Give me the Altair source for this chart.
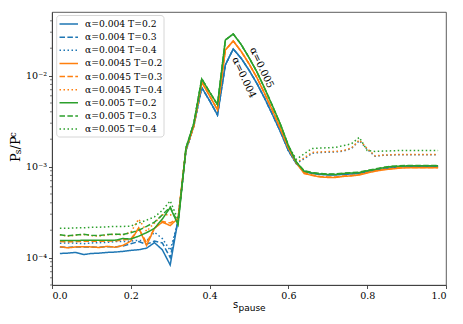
import altair as alt
import pandas as pd
import numpy as np

# ---------------- data ----------------
s_vals = [round(0.02 * i, 2) for i in range(1, 50)]  # 0.02 ... 0.98

labels = ["α=0.004 T=0.2", "α=0.004 T=0.3", "α=0.004 T=0.4",
          "α=0.0045 T=0.2", "α=0.0045 T=0.3", "α=0.0045 T=0.4",
          "α=0.005 T=0.2", "α=0.005 T=0.3", "α=0.005 T=0.4"]
colors = ["#1f77b4", "#1f77b4", "#1f77b4",
          "#ff7f0e", "#ff7f0e", "#ff7f0e",
          "#2ca02c", "#2ca02c", "#2ca02c"]
dashes = [[1, 0], [5.5, 2.4], [1.5, 2.5]] * 3

# s = 0.02 ... 0.32  (x1e-4)
head_b2 = [1.11, 1.12, 1.14, 1.08, 1.11, 1.12, 1.14, 1.15, 1.17, 1.20, 1.22, 1.27, 1.46, 1.22, 0.83, 2.6]
head_b3 = [1.31, 1.29, 1.31, 1.31, 1.31, 1.30, 1.32, 1.31, 1.34, 1.42, 1.50, 1.40, 1.52, 1.45, 1.00, 2.6]
head_b4 = [1.44, 1.45, 1.44, 1.42, 1.45, 1.46, 1.47, 1.50, 1.50, 1.52, 1.55, 1.52, 1.90, 1.62, 1.20, 2.5]
head_o2 = [1.32, 1.28, 1.31, 1.32, 1.31, 1.29, 1.33, 1.30, 1.36, 1.52, 2.12, 1.36, 2.10, 2.45, 2.25, 2.7]
head_o3 = [1.50, 1.49, 1.50, 1.51, 1.51, 1.51, 1.52, 1.52, 1.56, 1.60, 2.10, 1.45, 2.10, 2.50, 2.40, 2.7]
head_o4 = [1.78, 1.72, 1.76, 1.80, 1.74, 1.72, 1.78, 1.80, 1.78, 1.90, 2.65, 1.95, 2.40, 2.95, 2.95, 2.75]
head_g2 = [1.54, 1.54, 1.54, 1.55, 1.55, 1.55, 1.55, 1.55, 1.62, 1.60, 1.72, 1.88, 2.10, 2.65, 3.55, 2.3]
head_g3 = [1.78, 1.74, 1.77, 1.80, 1.76, 1.75, 1.79, 1.81, 1.80, 1.88, 2.00, 2.20, 2.45, 2.95, 3.60, 2.4]
head_g4 = [2.10, 2.10, 2.12, 2.13, 2.15, 2.16, 2.18, 2.20, 2.20, 2.22, 2.40, 2.58, 2.80, 3.30, 4.20, 2.6]

# s = 0.34 ... 0.60  (x1e-3), common to all T for a given alpha
peak_a004 = [1.5, 2.8, 7.4, 5.3, 3.7, 13.1, 19.6, 15.5, 11.5, 8.2, 5.6, 3.7, 2.4, 1.5]
peak_a0045 = [1.55, 2.8, 8.5, 6.0, 4.2, 19.1, 24.0, 18.5, 13.5, 9.5, 6.3, 4.1, 2.6, 1.6]
peak_a005 = [1.6, 3.0, 9.2, 6.6, 4.8, 24.6, 28.7, 22.0, 15.8, 11.0, 7.2, 4.6, 2.9, 1.7]

# s = 0.62 ... 0.98  (x1e-3)
tail_b2 = [1.08, 0.88, 0.84, 0.82, 0.81, 0.81, 0.82, 0.83, 0.84, 0.88, 0.91, 0.94, 0.97, 0.99, 1.00, 1.00, 1.00, 1.00, 1.00]
tail_b3 = [1.09, 0.89, 0.85, 0.83, 0.82, 0.82, 0.83, 0.84, 0.85, 0.89, 0.92, 0.95, 0.98, 1.00, 1.01, 1.01, 1.01, 1.01, 1.01]
tail_b4 = [1.08, 1.22, 1.40, 1.43, 1.44, 1.45, 1.48, 1.58, 1.93, 1.55, 1.30, 1.33, 1.34, 1.35, 1.35, 1.35, 1.35, 1.35, 1.35]
tail_o2 = [1.10, 0.84, 0.80, 0.77, 0.76, 0.76, 0.78, 0.79, 0.81, 0.85, 0.89, 0.92, 0.94, 0.96, 0.97, 0.97, 0.97, 0.97, 0.97]
tail_o3 = [1.11, 0.86, 0.81, 0.78, 0.77, 0.77, 0.79, 0.80, 0.82, 0.86, 0.90, 0.93, 0.95, 0.97, 0.98, 0.98, 0.98, 0.98, 0.98]
tail_o4 = [1.10, 1.25, 1.43, 1.45, 1.46, 1.47, 1.50, 1.60, 1.96, 1.58, 1.31, 1.34, 1.35, 1.36, 1.36, 1.36, 1.36, 1.36, 1.36]
tail_g2 = [1.12, 0.89, 0.85, 0.83, 0.82, 0.82, 0.84, 0.85, 0.86, 0.90, 0.93, 0.97, 1.00, 1.01, 1.02, 1.02, 1.02, 1.02, 1.02]
tail_g3 = [1.13, 0.90, 0.86, 0.84, 0.83, 0.83, 0.85, 0.86, 0.87, 0.91, 0.94, 0.98, 1.01, 1.02, 1.03, 1.03, 1.03, 1.03, 1.03]
tail_g4 = [1.20, 1.38, 1.58, 1.60, 1.61, 1.63, 1.70, 1.78, 2.10, 1.50, 1.47, 1.48, 1.49, 1.50, 1.50, 1.50, 1.50, 1.50, 1.50]

heads = [head_b2, head_b3, head_b4, head_o2, head_o3, head_o4, head_g2, head_g3, head_g4]
peaks = [peak_a004] * 3 + [peak_a0045] * 3 + [peak_a005] * 3
tails = [tail_b2, tail_b3, tail_b4, tail_o2, tail_o3, tail_o4, tail_g2, tail_g3, tail_g4]

y_major = [1e-4, 1e-3, 1e-2]
y_minor = [5e-5, 6e-5, 7e-5, 8e-5, 9e-5,
           2e-4, 3e-4, 4e-4, 5e-4, 6e-4, 7e-4, 8e-4, 9e-4,
           2e-3, 3e-3, 4e-3, 5e-3, 6e-3, 7e-3, 8e-3, 9e-3,
           2e-2, 3e-2, 4e-2]
x_ticks = [0.0, 0.2, 0.4, 0.6, 0.8, 1.0]

annot_text = ["α=0.004", "α=0.005"]
annot_s = [0.487, 0.532]
annot_v = [0.0095, 0.0122]

# ---------------- tables ----------------
rows = []
for k, lab in enumerate(labels):
    vals = [h * 1e-4 for h in heads[k]] + [p * 1e-3 for p in peaks[k]] + [t * 1e-3 for t in tails[k]]
    for s, v in zip(s_vals, vals):
        rows.append({"s": s, "v": v, "series": lab, "k": k})
df = pd.DataFrame(rows)

leg_df = pd.DataFrame({"series": labels, "row": list(range(9))})
minor_df = pd.DataFrame({"v": y_minor})
annot_df = pd.DataFrame({"t": annot_text, "s": annot_s, "v": annot_v})
one = pd.DataFrame({"a": [0]})

SERIF = "DejaVu Serif"
W, H = 394, 273

xscale = alt.Scale(domain=[0, 1], nice=False, zero=False)
yscale = alt.Scale(type="log", domain=[5e-5, 5e-2], nice=False)
cscale = alt.Scale(domain=labels, range=colors)
dscale = alt.Scale(domain=labels, range=dashes)

xaxis = alt.Axis(values=x_ticks, format=".1f", title=None, grid=False)
yaxis = alt.Axis(values=y_major, title=None, grid=False,
                 labelExpr="datum.value < 0.0005 ? '10⁻⁴' : (datum.value < 0.005 ? '10⁻³' : '10⁻²')")

lines = alt.Chart(df).mark_line(strokeWidth=1.5, clip=True).encode(
    x=alt.X("s:Q", scale=xscale, axis=xaxis),
    y=alt.Y("v:Q", scale=yscale, axis=yaxis),
    color=alt.Color("series:N", scale=cscale, legend=None),
    strokeDash=alt.StrokeDash("series:N", scale=dscale, legend=None),
    detail="series:N",
)

minor = alt.Chart(minor_df).mark_rule(color="#222", strokeWidth=0.6).encode(
    y=alt.Y("v:Q", scale=yscale, axis=yaxis),
    x=alt.value(0), x2=alt.value(-2),
)

annot = alt.Chart(annot_df).mark_text(font=SERIF, fontSize=10, angle=65,
                                      align="center", baseline="middle", color="black").encode(
    x=alt.X("s:Q", scale=xscale, axis=xaxis),
    y=alt.Y("v:Q", scale=yscale, axis=yaxis),
    text="t:N",
)

main = alt.layer(lines, minor, annot)

# manual legend
leg_y = alt.Scale(domain=[0, 8], range=[12, 117])
leg_box = alt.Chart(one).mark_rect(fill="white", fillOpacity=0.85, stroke="#cccccc",
                                   strokeWidth=0.8, cornerRadius=3).encode(
    x=alt.value(4.7), x2=alt.value(112), y=alt.value(3.5), y2=alt.value(125))
leg_lines = alt.Chart(leg_df).mark_rule(strokeWidth=1.5).encode(
    y=alt.Y("row:Q", scale=leg_y, axis=None),
    x=alt.value(7.5), x2=alt.value(26),
    color=alt.Color("series:N", scale=cscale, legend=None),
    strokeDash=alt.StrokeDash("series:N", scale=dscale, legend=None),
)
leg_text = alt.Chart(leg_df).mark_text(font=SERIF, fontSize=9.2, align="left",
                                       baseline="middle", color="black").encode(
    y=alt.Y("row:Q", scale=leg_y, axis=None),
    x=alt.value(33),
    text="series:N",
)
legend = alt.layer(leg_box, leg_lines, leg_text)

# axis titles with sub/superscripts
def txt(t, x, y, size, font=SERIF, angle=0):
    kw = dict(font=font, fontSize=size, align="left", baseline="alphabetic", color="black")
    if angle:
        kw["angle"] = angle
    return alt.Chart(one).mark_text(**kw).encode(
        x=alt.value(x), y=alt.value(y), text=alt.value(t))

yt1 = txt("P", -32.5, 150, 13, angle=270)
yt2 = txt("s", -31.5, 142.2, 9, angle=270)
yt3 = txt("/P", -32.5, 137.4, 13, angle=270)
yt4 = txt("c", -36.5, 125.2, 9, angle=270)
xt1 = txt("s", 181, 296, 10, font="DejaVu Sans")
xt2 = txt("pause", 186.5, 299, 9, font="DejaVu Sans")
titles = alt.layer(yt1, yt2, yt3, yt4, xt1, xt2)

chart = alt.layer(main, legend, titles).resolve_scale(y="independent").properties(
    width=W, height=H,
    padding={"left": 44, "top": 4, "right": 9, "bottom": 31},
    autosize=alt.AutoSizeParams(type="none"),
).configure_view(
    stroke="#333", strokeWidth=0.8
).configure_axis(
    tickSize=3.5, tickWidth=0.8, tickColor="#222",
    domainColor="#333", domainWidth=0.8,
    labelFont=SERIF, labelFontSize=9.5, labelColor="black", labelPadding=2,
)

chart.save("out.html", embed_options={"renderer": "svg", "actions": False})
